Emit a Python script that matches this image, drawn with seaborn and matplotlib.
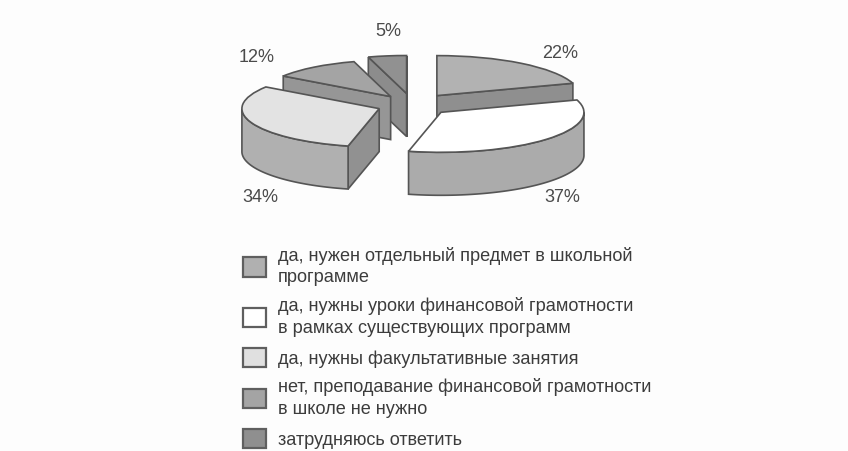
import numpy as np
import matplotlib
matplotlib.use("Agg")
import matplotlib.pyplot as plt
from matplotlib.patches import Patch, Polygon
import seaborn as sns

answers = ["да, нужен отдельный предмет в школьной\nпрограмме",
           "да, нужны уроки финансовой грамотности\nв рамках существующих программ",
           "да, нужны факультативные занятия",
           "нет, преподавание финансовой грамотности\nв школе не нужно",
           "затрудняюсь ответить"]
percent = [22, 37, 34, 12, 5]
top_colors = ["#b2b2b2", "#ffffff", "#e3e3e3", "#a4a4a4", "#919191"]
arc_colors = ["#8f8f8f", "#ababab", "#b0b0b0", "#8f8f8f", "#8a8a8a"]
side_colors = ["#8f8f8f", "#ababab", "#919191", "#969696", "#8c8c8c"]
legend_colors = ["#b0b0b0", "#ffffff", "#e0e0e0", "#a4a4a4", "#8f8f8f"]
explode = [0.29, 0.27, 0.25, 0.26, 0.29]
radius_factor = [1.0, 1.0, 0.96, 0.91, 0.95]
draw_order = [4, 3, 0, 2, 1]
label_px = [(560, 53), (562, 198), (260, 198), (257, 58), (388, 32)]

W, H = 848, 451
CX, CY, RX, RY, DEPTH = 412.5, 105, 143, 40, 43

sns.set_theme(style="white")
plt.rcParams["font.family"] = ["Liberation Sans", "DejaVu Sans"]
BG = "#fdfdfd"
EDGE = "#555555"

fig = plt.figure(figsize=(W / 100, H / 100), dpi=100, facecolor=BG)
ax = fig.add_axes([0, 0, 1, 1], facecolor=BG)

wedges, _ = ax.pie(percent, explode=explode, startangle=90, counterclock=False,
                   colors=top_colors, wedgeprops=dict(edgecolor=EDGE, linewidth=1.2))
ax.set_aspect("auto")
ax.set_xlim(-CX / RX, (W - CX) / RX)
ax.set_ylim((CY - H) / RY, CY / RY)
ax.set_axis_off()
depth = DEPTH / RY


def wall(pts, color, z):
    pts = np.asarray(pts)
    low = pts - [0, depth]
    ax.add_patch(Polygon(np.vstack([pts, low[::-1]]), closed=True, facecolor=color,
                         edgecolor=EDGE, linewidth=1.2, zorder=z))


for rank, i in enumerate(draw_order):
    w = wedges[i]
    w.set_radius(w.r * radius_factor[i])
    z = 2 + rank * 3
    a, b = w.theta1, w.theta2
    c = np.array(w.center)
    point = lambda t: c + w.r * np.array([np.cos(np.radians(t)), np.sin(np.radians(t))])
    if np.sin(np.radians(a - 90)) < 0:
        wall([c, point(a)], side_colors[i], z)
    if np.sin(np.radians(b + 90)) < 0:
        wall([c, point(b)], side_colors[i], z)
    ts = np.linspace(a, b, 200)
    ts = ts[np.sin(np.radians(ts)) < 0]
    if ts.size > 1:
        wall([point(t) for t in ts], arc_colors[i], z + 1)
    w.set_zorder(z + 2)

for value, (px, py) in zip(percent, label_px):
    ax.text((px - CX) / RX, (CY - py) / RY, f"{value}%", ha="center", va="center",
            fontsize=13, color="#4a4a4a")

handles = [Patch(facecolor=c, edgecolor="#5f5f5f", linewidth=1.6) for c in legend_colors]
leg = fig.legend(handles, answers, loc="upper left", bbox_to_anchor=(243 / W, 1 - 247 / H),
                 frameon=False, fontsize=13.1, labelcolor="#3c3c3c", handlelength=1.28,
                 handleheight=1.28, handletextpad=0.62, labelspacing=0.6, borderpad=0,
                 borderaxespad=0)
for t in leg.get_texts():
    t.set_linespacing(1.34)
fig.savefig("out.png", dpi=100, facecolor=BG)
